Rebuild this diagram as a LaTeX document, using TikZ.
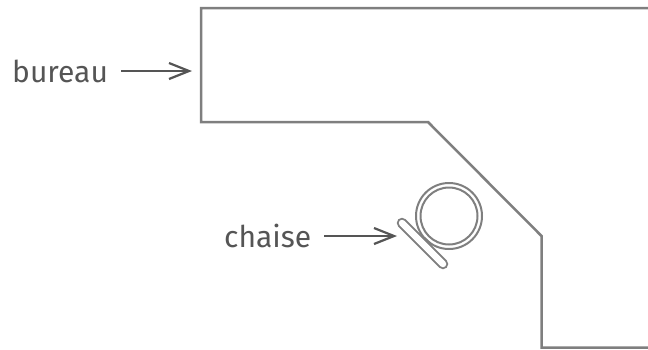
\documentclass[tikz,border=0pt]{standalone}
\usepackage{fontspec}
\setmainfont{Fira Sans}
\usetikzlibrary{arrows.meta}
\definecolor{wall}{HTML}{7F7F7F}
\definecolor{ink}{HTML}{555555}
\begin{document}
\begin{tikzpicture}
        [
            x=1pt, y=-1pt,
            outline/.style = {draw=wall, line width=2.5pt, line join=miter},
            chair/.style = {draw=wall, line width=2pt},
            label/.style = {text=ink, font=\fontsize{30}{32}\selectfont, inner sep=0pt, text height=22pt, text depth=0pt, anchor=base west},
            pointer/.style = {draw=ink, line width=2.2pt, shorten <=13pt, -{Straight Barb[length=20pt, width=16pt, line width=2.2pt]}},
        ]

        \useasboundingbox (0,0) rectangle (648,349);

        \draw[outline] (650,8) -- (201,8) -- (201,122) -- (428,122) -- (541.5,236) -- (541.5,347.5) -- (650,347.5);

        \draw[chair] (449,216) circle (33);
        \draw[chair] (449,216) circle (28.5);
        \draw[chair, fill=white] (420.5,245.5) -- (425,238.5) -- (431,244) -- (427.5,250.5) -- cycle;
        \draw[wall, line width=10.5pt, line cap=round] (402,223) -- (443,264);
        \draw[white, line width=6.5pt, line cap=round] (402,223) -- (443,264);

        \node[label] (bureau) at (12,82) {bureau};
        \node[label] (chaise) at (224,247) {chaise};

        \coordinate (deskpoint) at (192,71);
        \coordinate (chairpoint) at (397,236);

        \draw[pointer] (bureau.east) -- (deskpoint);
        \draw[pointer] (chaise.east) -- (chairpoint);
    \end{tikzpicture}
\end{document}
